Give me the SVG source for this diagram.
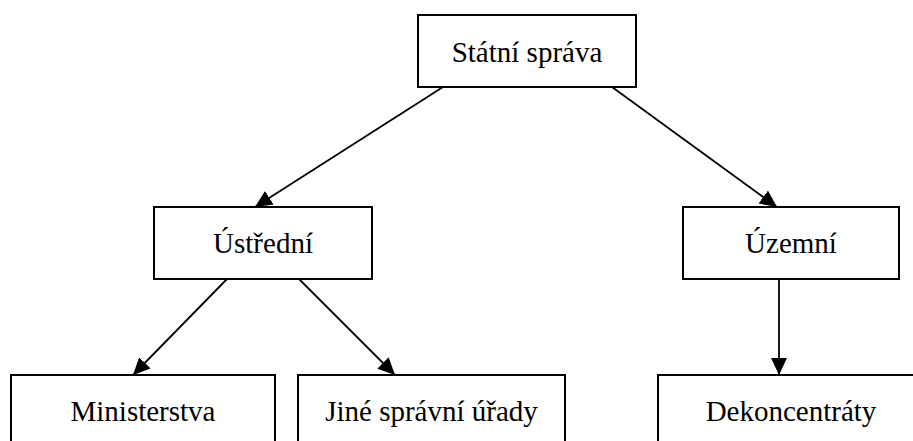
<svg xmlns="http://www.w3.org/2000/svg" width="913" height="441" viewBox="0 0 913 441">
<defs>
<style>
.box{fill:#fff;stroke:#000;stroke-width:2}
.lbl{font-family:"Liberation Serif","Times New Roman",serif;font-size:29px;fill:#000;text-anchor:middle}
.edge{stroke:#000;stroke-width:1.8;fill:none;marker-end:url(#ah)}
</style>
<marker id="ah" markerUnits="userSpaceOnUse" markerWidth="17" markerHeight="16" viewBox="0 0 17 16" refX="17" refY="8" orient="auto">
<path d="M0,0 L17,8 L0,16 Z" fill="#000"/>
</marker>
</defs>
<rect width="913" height="441" fill="#fff"/>
<g id="connectors">
<line class="edge" x1="443" y1="87" x2="255" y2="207"/>
<line class="edge" x1="612" y1="87" x2="777" y2="207"/>
<line class="edge" x1="227" y1="279" x2="133" y2="375"/>
<line class="edge" x1="299" y1="279" x2="395" y2="375"/>
<line class="edge" x1="779" y1="279" x2="779" y2="375"/>
</g>
<g id="statni-sprava">
<rect class="box" x="418" y="15" width="218" height="72"/>
<text class="lbl" x="527" y="62">Státní správa</text>
</g>
<g id="ustredni">
<rect class="box" x="154" y="207" width="218" height="72"/>
<text class="lbl" x="263" y="253">Ústřední</text>
</g>
<g id="uzemni">
<rect class="box" x="683" y="207" width="216" height="72"/>
<text class="lbl" x="791" y="253">Územní</text>
</g>
<g id="ministerstva">
<rect class="box" x="11" y="375" width="264" height="90"/>
<text class="lbl" x="143" y="421">Ministerstva</text>
</g>
<g id="jine-spravni-urady">
<rect class="box" x="298" y="375" width="267" height="90"/>
<text class="lbl" x="431.5" y="421">Jiné správní úřady</text>
</g>
<g id="dekoncentraty">
<rect class="box" x="658" y="375" width="266" height="90"/>
<text class="lbl" x="791" y="421">Dekoncentráty</text>
</g>
</svg>
